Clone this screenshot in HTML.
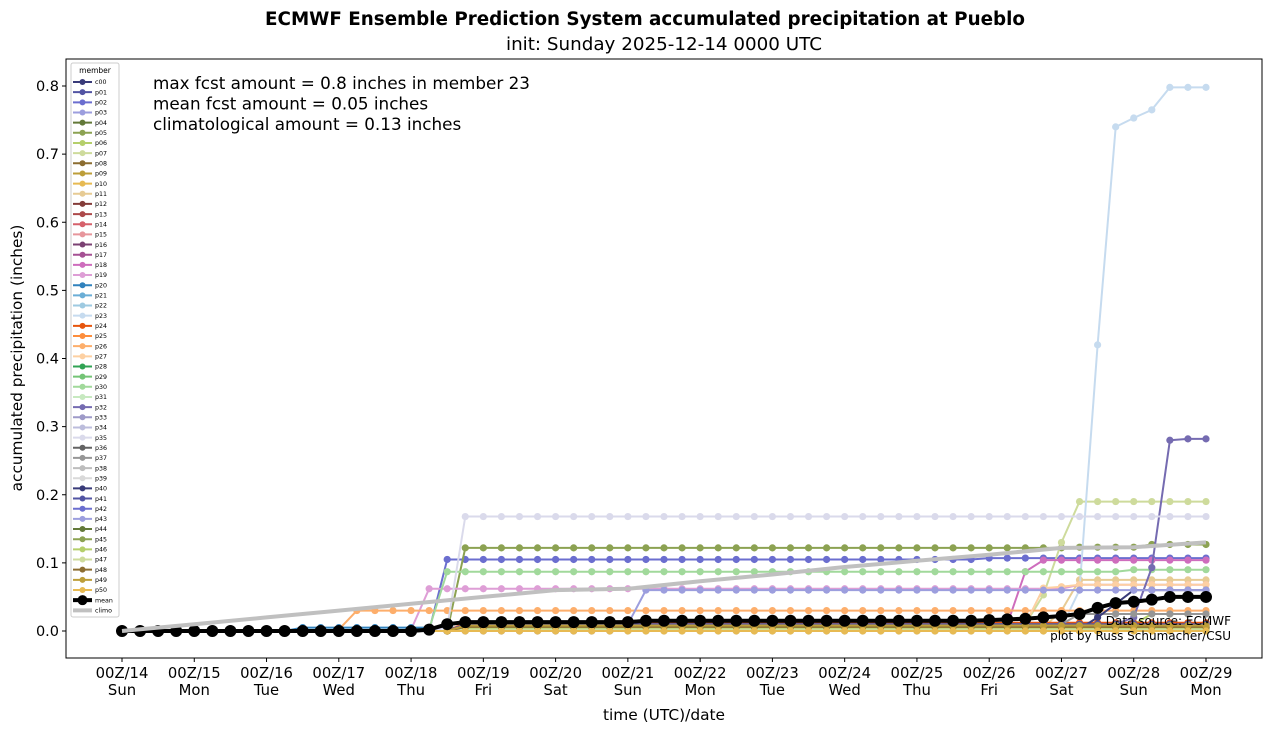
<!DOCTYPE html>
<html><head><meta charset="utf-8"><style>
html,body{margin:0;padding:0;background:#fff;}
svg{display:block;font-family:"DejaVu Sans","Liberation Sans",sans-serif;}
</style></head><body>
<svg id="chart" width="1271" height="733" viewBox="0 0 1271 733"></svg>
<script>
const dayLabels=["00Z/14","00Z/15","00Z/16","00Z/17","00Z/18","00Z/19","00Z/20","00Z/21","00Z/22","00Z/23","00Z/24","00Z/25","00Z/26","00Z/27","00Z/28","00Z/29"];
const weekdayLabels=["Sun","Mon","Tue","Wed","Thu","Fri","Sat","Sun","Mon","Tue","Wed","Thu","Fri","Sat","Sun","Mon"];
const yTicks=[0.0,0.1,0.2,0.3,0.4,0.5,0.6,0.7,0.8];
const memberNames=["c00","p01","p02","p03","p04","p05","p06","p07","p08","p09","p10","p11","p12","p13","p14","p15","p16","p17","p18","p19","p20","p21","p22","p23","p24","p25","p26","p27","p28","p29","p30","p31","p32","p33","p34","p35","p36","p37","p38","p39","p40","p41","p42","p43","p44","p45","p46","p47","p48","p49","p50"];
const memberColors=["#393b79","#5254a3","#6b6ecf","#9c9ede","#637939","#8ca252","#b5cf6b","#cedb9c","#8c6d31","#bd9e39","#e7ba52","#e7cb94","#843c39","#ad494a","#d6616b","#e7969c","#7b4173","#a55194","#ce6dbd","#de9ed6","#3182bd","#6baed6","#9ecae1","#c6dbef","#e6550d","#fd8d3c","#fdae6b","#fdd0a2","#31a354","#74c476","#a1d99b","#c7e9c0","#756bb1","#9e9ac8","#bcbddc","#dadaeb","#636363","#969696","#bdbdbd","#d9d9d9","#393b79","#5254a3","#6b6ecf","#9c9ede","#637939","#8ca252","#b5cf6b","#cedb9c","#8c6d31","#bd9e39","#e7ba52"];
// member values: 61 points, every 6 h from 00Z/14 (run-length: [value,count])
const memberRuns=[
[[0,19],[.004,42]],
[[0,19],[.006,36],[.01,6]],
[[0,18],[.105,30],[.107,13]],
[[0,19],[.003,42]],
[[0,19],[.005,42]],
[[0,19],[.122,34],[.123,4],[.127,4]],
[[0,19],[.003,34],[.01,4],[.025,4]],
[[0,19],[.003,31],[.01,1],[.053,1],[.13,1],[.19,8]],
[[0,19],[.004,42]],
[[0,19],[.002,38],[.01,4]],
[[0,61]],
[[0,19],[.005,33],[.03,1],[.075,8]],
[[0,19],[.008,42]],
[[0,19],[.006,42]],
[[0,19],[.01,42]],
[[0,19],[.004,42]],
[[0,19],[.002,42]],
[[0,19],[.006,42]],
[[0,19],[.005,30],[.01,1],[.087,1],[.104,10]],
[[0,16],[.002,1],[.062,36],[.068,8]],
[[0,10],[.005,51]],
[[0,19],[.007,42]],
[[0,19],[.004,42]],
[[0,52],[.005,1],[.06,1],[.42,1],[.74,1],[.753,1],[.765,1],[.798,3]],
[[0,19],[.012,42]],
[[0,19],[.005,42]],
[[0,12],[.002,1],[.03,48]],
[[0,19],[.004,31],[.01,1],[.063,1],[.065,1],[.068,8]],
[[0,19],[.005,42]],
[[0,19],[.003,42]],
[[0,17],[.003,1],[.087,38],[.09,5]],
[[0,19],[.002,42]],
[[0,19],[.006,36],[.01,1],[.02,1],[.093,1],[.28,1],[.282,2]],
[[0,19],[.004,42]],
[[0,19],[.006,42]],
[[0,18],[.005,1],[.168,42]],
[[0,19],[.008,42]],
[[0,19],[.01,34],[.025,8]],
[[0,19],[.007,42]],
[[0,19],[.005,42]],
[[0,19],[.003,35],[.02,1],[.04,1],[.06,5]],
[[0,19],[.01,42]],
[[0,19],[.005,42]],
[[0,28],[.01,1],[.06,32]],
[[0,19],[.003,42]],
[[0,19],[.005,42]],
[[0,19],[.004,42]],
[[0,19],[.002,42]],
[[0,19],[.006,42]],
[[0,19],[.008,42]],
[[0,61]]
];
const meanValues=[0,0,0,0,0,0,0,0,0,0,0,0,0,0,0,0,0,.002,.01,.013,.013,.013,.013,.013,.013,.013,.013,.013,.013,.015,.015,.015,.015,.015,.015,.015,.015,.015,.015,.015,.015,.015,.015,.015,.015,.015,.015,.015,.016,.017,.018,.02,.022,.025,.034,.041,.043,.046,.05,.05,.05];
const climoValues=[0,.01,.02,.03,.04,.05,.06,.062,.073,.083,.094,.103,.112,.122,.123,.13];

const NS="http://www.w3.org/2000/svg";
const svg=document.getElementById("chart");
const L=66,R=1262,T=59,B=658;
function xScale(h){return 122+(h/360)*(1206-122);}
function yScale(v){return 631-v*(631-86)/0.8;}
function mk(tag,attrs,parent){const e=document.createElementNS(NS,tag);for(const k in attrs)e.setAttribute(k,attrs[k]);(parent||svg).appendChild(e);return e;}
function txt(s,attrs,parent){const e=mk("text",attrs,parent);e.textContent=s;return e;}
function expand(runs){const out=[];runs.forEach(r=>{for(let i=0;i<r[1];i++)out.push(r[0]);});return out;}

// titles
let t1=txt("ECMWF Ensemble Prediction System accumulated precipitation at Pueblo",{x:645,y:25,"text-anchor":"middle","font-size":"18.2","font-weight":"bold",textLength:"760",lengthAdjust:"spacingAndGlyphs"});


let t2=txt("init: Sunday 2025-12-14 0000 UTC",{x:664,y:50,"text-anchor":"middle","font-size":"18",textLength:"316",lengthAdjust:"spacingAndGlyphs"});



// axes frame
const plotG=mk("g",{});


const clip=mk("clipPath",{id:"pc"});mk("rect",{x:L,y:T,width:R-L,height:B-T},clip);
const seriesG=mk("g",{"clip-path":"url(#pc)"},plotG);

// y ticks
yTicks.forEach(v=>{
  const y=yScale(v);
  const tk=mk("line",{x1:L-4,x2:L,y1:y,y2:y,stroke:"#000","stroke-width":1});
  
  
  const lb=txt(v.toFixed(1),{x:L-7,y:y+5,"text-anchor":"end","font-size":"14.5"});
  
  
});
dayLabels.forEach((d,i)=>{
  const x=xScale(i*24);
  const tk=mk("line",{x1:x,x2:x,y1:B,y2:B+4,stroke:"#000","stroke-width":1});
  
  
  const lb=txt(d,{x:x,y:B+20,"text-anchor":"middle","font-size":"14.8"});
  
  
  const lw=txt(weekdayLabels[i],{x:x,y:B+37,"text-anchor":"middle","font-size":"14.8"});
  
  
});
let yl=txt("accumulated precipitation (inches)",{x:0,y:0,transform:"translate(22,358) rotate(-90)","text-anchor":"middle","font-size":"15.3"});


let xl=txt("time (UTC)/date",{x:664,y:720,"text-anchor":"middle","font-size":"15.4"});



// series
function drawSeries(vals,color,lw,r,name){
  const g=mk("g",{},seriesG);
  
  
  const pts=vals.map((v,i)=>xScale(i*6).toFixed(1)+","+yScale(v).toFixed(1)).join(" ");
  mk("polyline",{points:pts,fill:"none",stroke:color,"stroke-width":lw,"stroke-linejoin":"round"},g);
  vals.forEach((v,i)=>{
    const c=mk("circle",{cx:xScale(i*6),cy:yScale(v),r:r,fill:color},g);
    
    
  });
}
memberRuns.forEach((runs,m)=>{drawSeries(expand(runs),memberColors[m],2,3.6,'series-'+memberNames[m]);});
drawSeries(meanValues,"#000",4,6,'series-mean');
const cg=mk("g",{},seriesG);


mk("polyline",{points:climoValues.map((v,i)=>xScale(i*24).toFixed(1)+","+yScale(v).toFixed(1)).join(" "),fill:"none",stroke:"#c0c0c0","stroke-width":4},cg);

mk("rect",{x:L,y:T,width:R-L,height:B-T,fill:"none",stroke:"#000","stroke-width":1},plotG);

// annotations
["max fcst amount = 0.8 inches in member 23","mean fcst amount = 0.05 inches","climatological amount = 0.13 inches"].forEach((s,i)=>{
  const a=txt(s,{x:153,y:89+i*20.5,"font-size":"16.8"});
  
  
});
let s1=txt("Data source: ECMWF",{x:1231,y:625,"text-anchor":"end","font-size":"12"});


let s2=txt("plot by Russ Schumacher/CSU",{x:1231,y:640,"text-anchor":"end","font-size":"12"});



// legend
const lg=mk("g",{});


mk("rect",{x:71,y:63,width:48,height:554,rx:2,fill:"#fff","fill-opacity":0.85,stroke:"#ccc","stroke-width":1},lg);
txt("member",{x:95,y:73,"text-anchor":"middle","font-size":"7.5"},lg);
const entries=memberNames.map((n,i)=>[n,memberColors[i],2,3]).concat([["mean","#000",4,5],["climo","#c0c0c0",4,0]]);
entries.forEach((e,i)=>{
  const y=82+i*10.16;
  const g=mk("g",{},lg);
  
  
  mk("line",{x1:73,x2:92,y1:y,y2:y,stroke:e[1],"stroke-width":e[2]},g);
  if(e[3])mk("circle",{cx:82.5,cy:y,r:e[3],fill:e[1]},g);
  txt(e[0],{x:95,y:y+2.2,"font-size":"6.3"},g);
});
</script>
</body></html>
